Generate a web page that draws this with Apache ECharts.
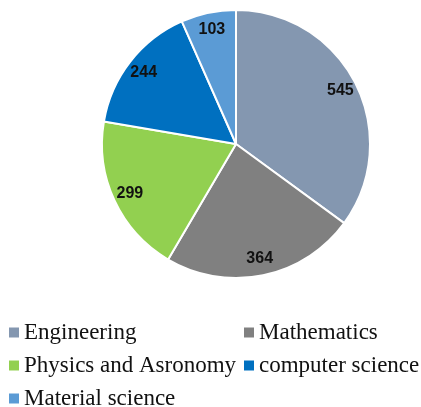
<!DOCTYPE html>
<html>
<head>
<meta charset="utf-8">
<script src="https://cdn.jsdelivr.net/npm/echarts@6/dist/echarts.min.js"></script>
<style>html,body{margin:0;padding:0;background:#fff;}#c{width:421px;height:407px;}</style>
</head>
<body>
<div id="c"></div>
<script>
var categories = ['Engineering', 'Mathematics', 'Physics and Asronomy', 'computer science', 'Material science'];
var values = [545, 364, 299, 244, 103];
var colors = ['#8497B0', '#808080', '#92D050', '#0070C0', '#5B9BD5'];
var legendCol1 = ['Engineering', 'Physics and Asronomy', 'Material science'];
var legendCol2 = ['Mathematics', 'computer science'];

var chart = echarts.init(document.getElementById('c'));
var legendText = { fontFamily: 'Liberation Serif', fontSize: 23, color: '#111', lineHeight: 33 };
chart.setOption({
  animation: false,
  color: colors,
  legend: [
    { orient: 'vertical', left: 9, top: 316, width: 230, height: 140, padding: 0, itemGap: 0, itemWidth: 10, itemHeight: 10,
      itemStyle: { borderWidth: 0 }, icon: 'rect', data: legendCol1, textStyle: legendText, selectedMode: false },
    { orient: 'vertical', left: 244, top: 316, width: 175, height: 140, padding: 0, itemGap: 0, itemWidth: 10, itemHeight: 10,
      itemStyle: { borderWidth: 0 }, icon: 'rect', data: legendCol2, textStyle: legendText, selectedMode: false }
  ],
  series: [
    {
      type: 'pie',
      center: [236, 144],
      radius: [0, 134],
      startAngle: 90,
      clockwise: true,
      silent: true,
      itemStyle: { borderColor: '#fff', borderWidth: 2 },
      label: { show: false },
      labelLine: { show: false },
      data: categories.map(function (n, i) { return { name: n, value: values[i] }; })
    },
    {
      type: 'pie',
      center: [236, 144],
      radius: [94, 134],
      startAngle: 90,
      clockwise: true,
      silent: true,
      itemStyle: { color: 'rgba(0,0,0,0)', borderWidth: 0 },
      label: { show: true, position: 'inside', formatter: '{c}', fontFamily: 'Liberation Sans',
        fontWeight: 'bold', fontSize: 16, color: '#111' },
      labelLine: { show: false },
      data: values.map(function (v) { return { value: v }; })
    }
  ]
});
</script>
</body>
</html>
